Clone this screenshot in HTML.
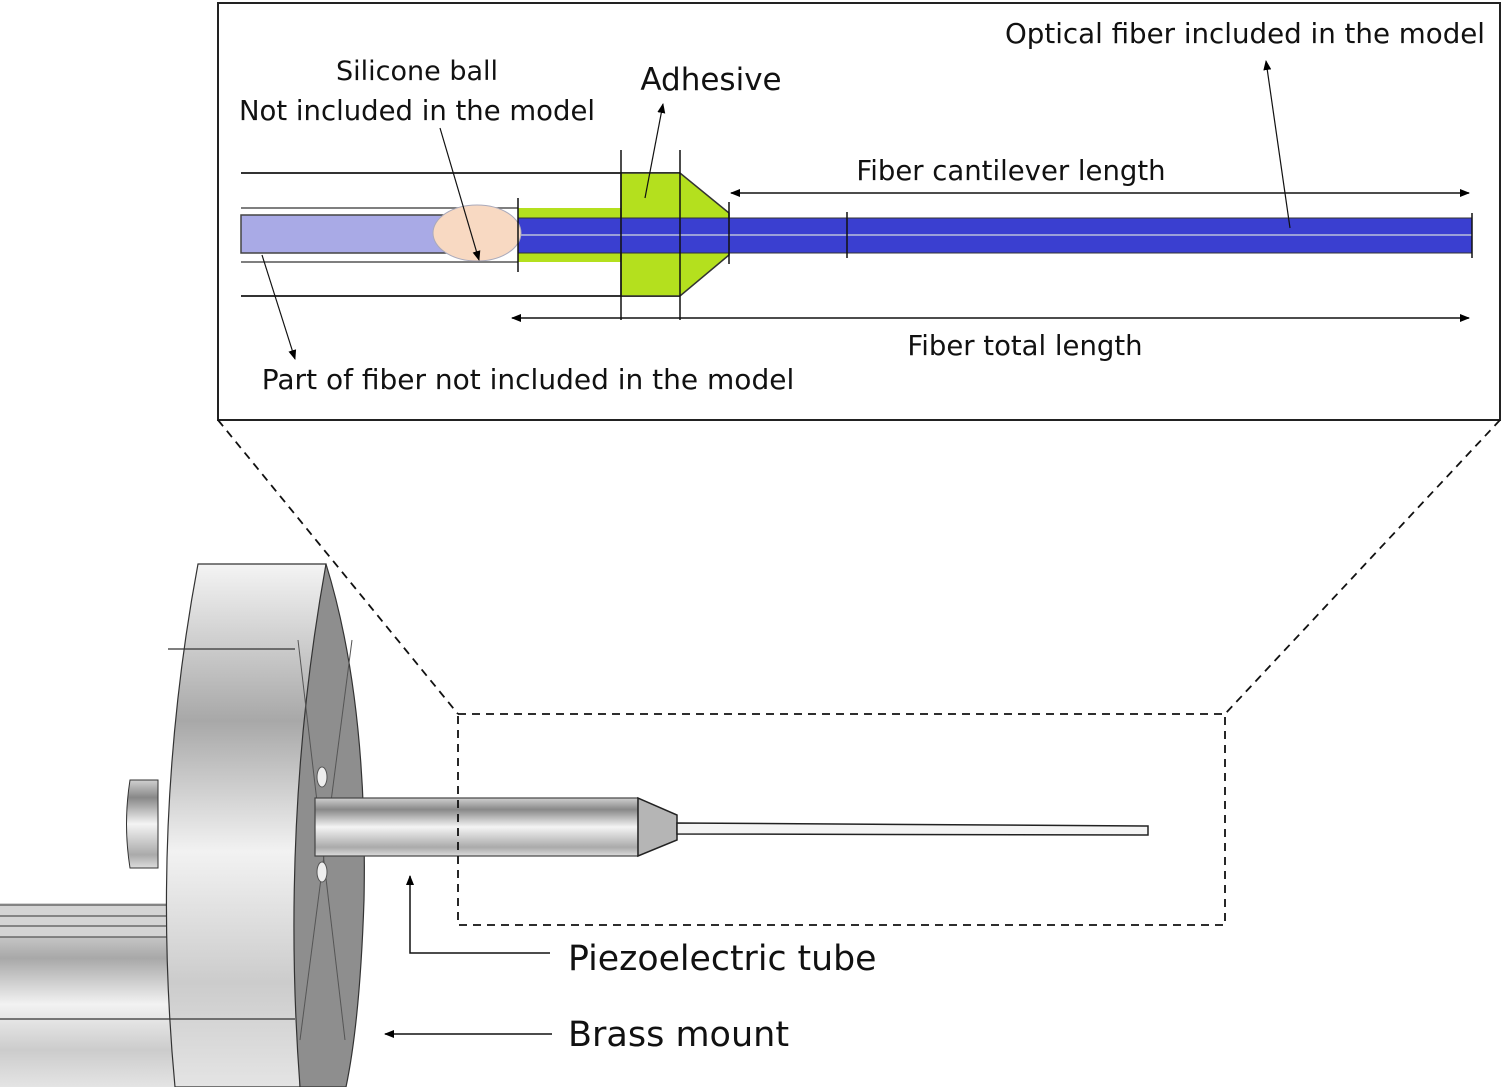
<!DOCTYPE html>
<html><head><meta charset="utf-8"><style>
html,body{margin:0;padding:0;background:#fff}
svg{display:block}
text{font-family:"DejaVu Sans","Liberation Sans",sans-serif;fill:#111}
</style></head><body>
<svg width="1503" height="1087" viewBox="0 0 1503 1087" xmlns="http://www.w3.org/2000/svg">
<defs>
<marker id="ah" markerWidth="10" markerHeight="8" refX="9" refY="4" orient="auto" markerUnits="userSpaceOnUse"><path d="M0,0 L10,4 L0,8 Z" fill="#000"/></marker>
<linearGradient id="gv" x1="0" y1="0" x2="0" y2="1">
<stop offset="0" stop-color="#f4f4f4"/><stop offset="0.3" stop-color="#a8a8a8"/><stop offset="0.55" stop-color="#f2f2f2"/><stop offset="0.8" stop-color="#cccccc"/><stop offset="1" stop-color="#e4e4e4"/></linearGradient>
<linearGradient id="gt" x1="0" y1="0" x2="0" y2="1">
<stop offset="0" stop-color="#d0d0d0"/><stop offset="0.2" stop-color="#888"/><stop offset="0.5" stop-color="#f4f4f4"/><stop offset="0.85" stop-color="#aaa"/><stop offset="1" stop-color="#ddd"/></linearGradient>
</defs>

<rect x="218" y="3" width="1282" height="417" fill="#fff" stroke="#222" stroke-width="2"/>
<line x1="241" y1="173" x2="680" y2="173" stroke="#333" stroke-width="2"/>
<line x1="241" y1="296" x2="680" y2="296" stroke="#333" stroke-width="2"/>
<line x1="241" y1="208" x2="518" y2="208" stroke="#555" stroke-width="1.5"/>
<line x1="241" y1="262" x2="518" y2="262" stroke="#555" stroke-width="1.5"/>
<rect x="241" y="215" width="205" height="38" fill="#a9aae6" stroke="#444" stroke-width="1.5"/>
<rect x="518" y="208" width="103" height="54" fill="#b4e01e"/>
<path d="M621,173 L680,173 L729,213 L729,255 L680,296 L621,296 Z" fill="#b4e01e" stroke="#333" stroke-width="1.5"/>
<rect x="518" y="218" width="954" height="35" fill="#3a3fd0" stroke="#333" stroke-width="1"/>
<line x1="518" y1="235" x2="1472" y2="235" stroke="#9aa0d8" stroke-width="2"/>
<ellipse cx="477" cy="233" rx="44" ry="28" fill="#f8d9c2" stroke="#aab" stroke-width="1"/>
<g stroke="#111" stroke-width="1.5">
<line x1="621" y1="150" x2="621" y2="320"/><line x1="680" y1="150" x2="680" y2="320"/>
<line x1="518" y1="198" x2="518" y2="272"/><line x1="729" y1="202" x2="729" y2="264"/>
<line x1="847" y1="212" x2="847" y2="258"/><line x1="1472" y1="213" x2="1472" y2="258"/>
<line x1="1468" y1="193" x2="731" y2="193" marker-end="url(#ah)"/>
<line x1="1468" y1="193" x2="1469" y2="193" marker-end="url(#ah)"/>
<line x1="1468" y1="318" x2="512" y2="318" marker-end="url(#ah)"/>
<line x1="1466" y1="318" x2="1469" y2="318" marker-end="url(#ah)"/>
<line x1="440" y1="128" x2="479" y2="260" marker-end="url(#ah)" stroke-width="1.2"/>
<line x1="645" y1="198" x2="663" y2="104" marker-end="url(#ah)" stroke-width="1.2"/>
<line x1="1290" y1="228" x2="1266" y2="61" marker-end="url(#ah)" stroke-width="1.2"/>
<line x1="262" y1="255" x2="295" y2="359" marker-end="url(#ah)" stroke-width="1.2"/>
</g>
<text x="417" y="80" font-size="27" text-anchor="middle">Silicone ball</text>
<text x="417" y="120" font-size="27.5" text-anchor="middle">Not included in the model</text>
<text x="711" y="90" font-size="31" text-anchor="middle">Adhesive</text>
<text x="1245" y="43" font-size="27.7" text-anchor="middle">Optical fiber included in the model</text>
<text x="1011" y="180" font-size="27.5" text-anchor="middle">Fiber cantilever length</text>
<text x="1025" y="355" font-size="27.5" text-anchor="middle">Fiber total length</text>
<text x="528" y="389" font-size="28" text-anchor="middle">Part of fiber not included in the model</text>

<g stroke="#111" stroke-width="1.8" stroke-dasharray="8,6" fill="none">
<line x1="218" y1="420" x2="458" y2="714"/>
<line x1="1500" y1="420" x2="1225" y2="714"/>
</g>

<rect x="0" y="903" width="175" height="184" fill="url(#gv)"/>
<rect x="0" y="903" width="175" height="34" fill="#d4d4d4"/>
<g stroke="#555" stroke-width="1.2"><line x1="0" y1="905" x2="170" y2="905"/><line x1="0" y1="916" x2="170" y2="916"/><line x1="0" y1="926" x2="170" y2="926"/><line x1="0" y1="937" x2="170" y2="937"/></g>
<path d="M130,780 L158,780 L158,868 L130,868 Q123,824 130,780 Z" fill="url(#gt)" stroke="#333" stroke-width="1"/>
<path d="M198,564 L326,564 Q294,820 300,1087 L175,1087 Q150,820 198,564 Z" fill="url(#gv)" stroke="#333" stroke-width="1.2"/>
<line x1="168" y1="649" x2="295" y2="649" stroke="#333" stroke-width="1.2"/>
<line x1="0" y1="1019" x2="295" y2="1019" stroke="#333" stroke-width="1.2"/>
<path d="M326,564 Q368,700 364,900 Q360,1020 346,1087 L300,1087 Q280,820 326,564 Z" fill="#8e8e8e" stroke="#333" stroke-width="1.2"/>
<g stroke="#555" stroke-width="1"><line x1="298" y1="640" x2="345" y2="1040"/><line x1="352" y1="640" x2="300" y2="1040"/></g>
<ellipse cx="322" cy="777" rx="5" ry="10" fill="#eee" stroke="#555"/>
<ellipse cx="322" cy="872" rx="5" ry="10" fill="#eee" stroke="#555"/>
<rect x="315" y="798" width="323" height="58" fill="url(#gt)" stroke="#444" stroke-width="1.2"/>
<path d="M638,798 L677,815 L677,840 L638,856 Z" fill="#b5b5b5" stroke="#222" stroke-width="1.5"/>
<path d="M677,823 L1148,826 L1148,835 L677,834 Z" fill="#f4f4f4" stroke="#222" stroke-width="1.5"/>

<rect x="458" y="714" width="767" height="211" fill="none" stroke="#111" stroke-width="1.8" stroke-dasharray="8,6"/>

<g stroke="#111" stroke-width="1.5" fill="none">
<polyline points="550,953 410,953 410,876" marker-end="url(#ah)"/>
<line x1="552" y1="1034" x2="385" y2="1034" marker-end="url(#ah)"/>
</g>
<text x="568" y="970" font-size="34.7" font-family="Liberation Sans">Piezoelectric tube</text>
<text x="568" y="1046" font-size="35" font-family="Liberation Sans">Brass mount</text>
</svg>
</body></html>
